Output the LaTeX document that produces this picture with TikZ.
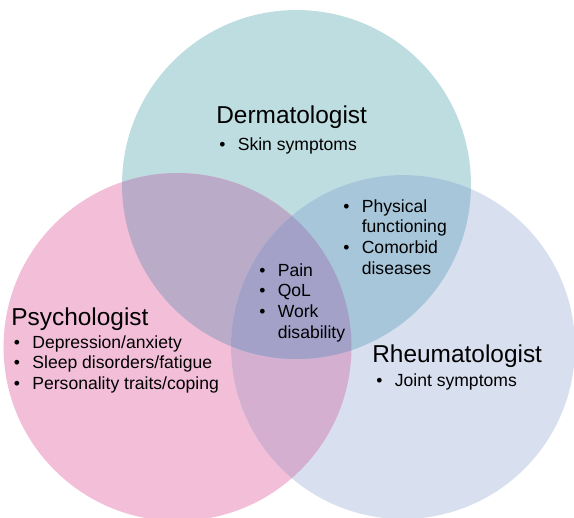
\documentclass[tikz,border=0pt]{standalone}
\usepackage{fontspec}
\setmainfont{Liberation Sans}
\definecolor{DermTeal}{RGB}{190,221,224}
\definecolor{PsychPink}{RGB}{242,190,216}
\definecolor{RheumLilac}{RGB}{216,223,238}
\definecolor{DermPsych}{RGB}{186,172,201}
\definecolor{DermRheum}{RGB}{167,198,218}
\definecolor{PsychRheum}{RGB}{212,175,208}
\definecolor{AllThree}{RGB}{163,161,200}
% the three discs, in pixel-like units (see x/y below)
\newcommand{\dermdisc}{(296.5,184.5) circle [radius=3.49cm]}
\newcommand{\psychdisc}{(177.5,347) circle [radius=3.48cm]}
\newcommand{\rheumdisc}{(403,347) circle [radius=3.44cm]}
% bullet list: bullet column + text column
\newcommand{\bulletlist}[1]{\begin{tabular}[t]{@{}l@{\hspace{7pt}}l@{}}#1\end{tabular}}
\tikzset{
  heading/.style={inner sep=0pt,anchor=base west,
    font=\fontsize{13.9}{16}\selectfont},
  itemlist/.style={inner sep=0pt,anchor=base west,
    font=\fontsize{10}{11.9}\selectfont}
}

\begin{document}
\begin{tikzpicture}[x=0.02cm,y=-0.02cm]
  \useasboundingbox (0,0) rectangle (574,517);
  \clip (0,0) rectangle (574,517);
  % single discs
  \fill[DermTeal] \dermdisc;
  \fill[PsychPink] \psychdisc;
  \fill[RheumLilac] \rheumdisc;
  % overlaps
  \begin{scope}
    \clip \psychdisc;
    \fill[PsychRheum] \rheumdisc;
  \end{scope}
  \begin{scope}
    \clip \dermdisc;
    \fill[DermPsych] \psychdisc;
    \fill[DermRheum] \rheumdisc;
    \clip \psychdisc;
    \fill[AllThree] \rheumdisc;
  \end{scope}

  % labels
  \node[heading] (derm) at (216,123.3) {Dermatologist};
  \node[itemlist] (dermlist) at (219,150) {\bulletlist{\textbullet & Skin symptoms}};

  \node[itemlist] (dermrheum) at (343,212) {\bulletlist{%
    \textbullet & Physical\\ & functioning\\
    \textbullet & Comorbid\\ & diseases}};

  \node[itemlist] (shared) at (259,276) {\bulletlist{%
    \textbullet & Pain\\
    \textbullet & QoL\\
    \textbullet & Work\\ & disability}};

  \node[heading] (psych) at (11,325) {Psychologist};
  \node[itemlist] (psychlist) at (13.6,348) {\bulletlist{%
    \textbullet & Depression/anxiety\\
    \textbullet & Sleep disorders/fatigue\\
    \textbullet & Personality traits/coping}};

  \node[heading] (rheum) at (372,362) {Rheumatologist};
  \node[itemlist] (rheumlist) at (376,386) {\bulletlist{\textbullet & Joint symptoms}};
\end{tikzpicture}
\end{document}
